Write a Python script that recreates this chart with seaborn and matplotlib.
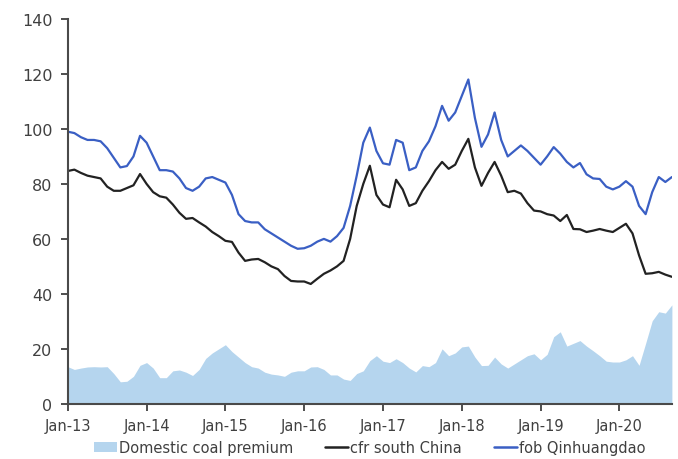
import numpy as np
import pandas as pd
import matplotlib
matplotlib.use("Agg")
import matplotlib.pyplot as plt
import seaborn as sns
from matplotlib.patches import Patch
from matplotlib.lines import Line2D

tick_labels = ["Jan-13", "Jan-14", "Jan-15", "Jan-16", "Jan-17", "Jan-18", "Jan-19", "Jan-20"]

fob_qinhuangdao = [
    99, 98.5, 97, 96, 96, 95.5, 93, 89.5, 86, 86.5, 90, 97.5,
    95, 90, 85, 85, 84.5, 82, 78.5, 77.5, 79, 82, 82.5, 81.5,
    80.5, 76, 69, 66.5, 66, 66, 63.5, 62, 60.5, 59, 57.5, 56.4,
    56.6, 57.5, 59, 60, 59, 61, 64, 72, 83, 95, 100.5, 92,
    87.5, 87, 96, 95, 85, 86, 92, 95.5, 101, 108.4, 103, 106,
    112, 118, 104, 93.5, 98, 106, 96, 90, 92, 94, 92, 89.5,
    87, 90, 93.4, 91, 88, 86, 87.6, 83.5, 82, 81.8, 79, 78,
    79, 81, 79, 72, 69, 77, 82.5, 80.7, 82.5,
]

cfr_south_china = [
    84.7, 85.2, 84, 83, 82.5, 82, 79, 77.5, 77.5, 78.5, 79.5, 83.6,
    80, 77, 75.5, 75, 72.5, 69.5, 67.3, 67.6, 66, 64.5, 62.5, 61,
    59.3, 58.9, 55, 52, 52.5, 52.7, 51.5, 50, 49, 46.5, 44.7, 44.5,
    44.5, 43.6, 45.5, 47.3, 48.5, 50, 52, 60, 72, 80, 86.6, 76,
    72.5, 71.5, 81.5, 78, 72, 73, 77.5, 81, 85, 88, 85.5, 87,
    92, 96.4, 86, 79.3, 84, 88, 83, 77, 77.5, 76.5, 73, 70.3,
    70, 69, 68.5, 66.5, 68.7, 63.6, 63.5, 62.5, 63, 63.6, 63, 62.5,
    64, 65.5, 62, 54, 47.3, 47.5, 48, 47, 46.2,
]

domestic_premium = [
    13.5, 12.5, 13, 13.4, 13.5, 13.4, 13.5, 11, 8, 8.2, 10, 14,
    15, 13, 9.5, 9.5, 12, 12.3, 11.5, 10.3, 12.5, 16.5, 18.5, 20,
    21.5, 19, 17, 15, 13.5, 13, 11.5, 10.8, 10.5, 10, 11.5, 12,
    12, 13.4, 13.5, 12.5, 10.5, 10.5, 9, 8.5, 11, 12, 15.7, 17.5,
    15.5, 15, 16.4, 15, 13, 11.6, 13.9, 13.5, 15, 20, 17.5, 18.5,
    20.7, 21, 17, 13.9, 14, 17, 14.5, 13, 14.5, 16, 17.5, 18.2,
    16, 18, 24.4, 26.2, 21, 22, 23, 21, 19.3, 17.5, 15.5, 15.2,
    15.2, 16, 17.5, 14, 22, 30.2, 33.5, 33, 36,
]

months = np.arange(len(fob_qinhuangdao))
df = pd.DataFrame({
    "month": months,
    "fob": fob_qinhuangdao,
    "cfr": cfr_south_china,
    "premium": domestic_premium,
})

sns.set_style("white")
plt.rcParams["font.family"] = ["DejaVu Sans"]

fig = plt.figure(figsize=(6.78, 4.6), dpi=100)
ax = fig.add_axes([0.100, 0.120, 0.891, 0.8365])

area_color = "#b5d5ee"
blue_color = "#3a5fc4"
black_color = "#222222"

ax.fill_between(df["month"], 0, df["premium"], color=area_color, linewidth=0)
sns.lineplot(data=df, x="month", y="cfr", ax=ax, color=black_color, linewidth=1.6)
sns.lineplot(data=df, x="month", y="fob", ax=ax, color=blue_color, linewidth=1.6)

ax.set_xlim(0, months[-1])
ax.set_ylim(0, 140)
ax.set_yticks(np.arange(0, 141, 20))
ax.set_xticks(np.arange(0, 12 * len(tick_labels), 12))
ax.set_xticklabels(tick_labels)
ax.set_xlabel("")
ax.set_ylabel("")

for s in ["top", "right"]:
    ax.spines[s].set_visible(False)
for s in ["left", "bottom"]:
    ax.spines[s].set_color("#4a4a4a")
    ax.spines[s].set_linewidth(1.5)

ax.tick_params(axis="y", labelsize=11.5, colors="#404040", length=5, width=1.3, direction="out", left=True, pad=6)
ax.tick_params(axis="x", labelsize=10.5, colors="#404040", length=5, width=1.3, direction="out", bottom=True, pad=5)
for lbl in ax.get_xticklabels() + ax.get_yticklabels():
    lbl.set_color("#404040")

handles = [
    Patch(facecolor=area_color, edgecolor="none"),
    Line2D([0], [0], color=black_color, linewidth=1.8),
    Line2D([0], [0], color=blue_color, linewidth=1.8),
]
labels = ["Domestic coal premium", "cfr south China", "fob Qinhuangdao"]
fig.legend(handles, labels, loc="center", bbox_to_anchor=(0.545, 0.024), ncol=3,
           frameon=False, fontsize=10.5, handlelength=1.6, handletextpad=0.1,
           columnspacing=2.2, labelcolor="#404040", borderpad=0.1)

fig.savefig("out.png", dpi=100)
